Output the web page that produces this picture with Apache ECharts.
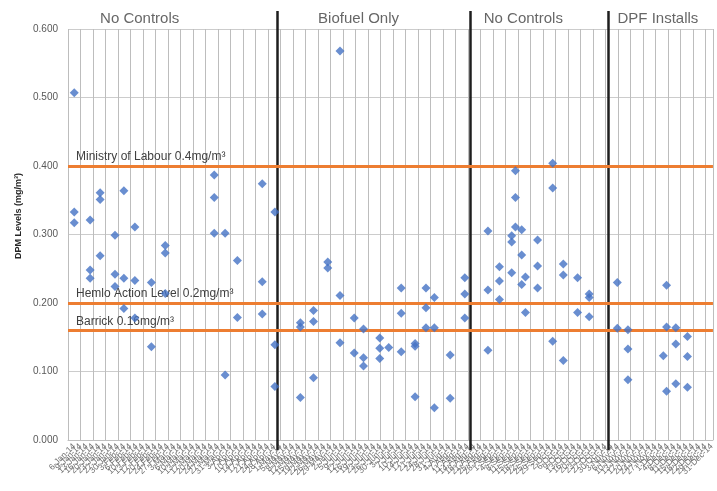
<!DOCTYPE html>
<html>
<head>
<meta charset="utf-8">
<script src="https://cdn.jsdelivr.net/npm/echarts@6/dist/echarts.min.js"></script>
<style>
html,body{margin:0;padding:0;background:#fff;}
#chart{width:717px;height:491px;}
</style>
</head>
<body>
<div id="chart"></div>
<script>
// ---- data (x = sampling position along date axis, in grid-column units) ----
var noControls1X = [0.50,0.50,0.50, 1.77,1.77,1.77, 2.57,2.57,2.57, 3.76,3.76,3.76, 4.47,4.47,4.47, 5.35,5.35,5.35, 6.67,6.67, 7.78,7.78,7.78, 11.70,11.70,11.70, 12.57,12.57, 13.55,13.55, 15.54,15.54,15.54, 16.55,16.55,16.55];
var noControls1Y = [0.507,0.333,0.317, 0.321,0.248,0.236, 0.361,0.351,0.269, 0.299,0.242,0.224, 0.364,0.236,0.192, 0.311,0.233,0.178, 0.230,0.136, 0.284,0.273,0.214, 0.387,0.354,0.302, 0.302,0.095, 0.262,0.179, 0.374,0.231,0.184, 0.333,0.139,0.078];

var biofuelX = [18.59,18.59,18.59, 19.64,19.64,19.64, 20.78,20.78, 21.76,21.76,21.76, 22.90,22.90, 23.64,23.64,23.64, 24.94,24.94,24.94, 25.66, 26.66,26.66,26.66, 27.77,27.77,27.77, 28.64,28.64,28.64, 29.31,29.31,29.31, 30.58,30.58, 31.75,31.75,31.75];
var biofuelY = [0.171,0.165,0.062, 0.189,0.173,0.091, 0.260,0.251, 0.568,0.211,0.142, 0.178,0.127, 0.162,0.120,0.108, 0.149,0.134,0.119, 0.135, 0.222,0.185,0.129, 0.141,0.137,0.063, 0.222,0.193,0.164, 0.208,0.164,0.047, 0.124,0.061, 0.237,0.213,0.178];

var noControls2X = [33.60,33.60,33.60, 34.52,34.52,34.52, 35.80,35.80,35.80, 35.50,35.50,35.50, 36.30,36.30,36.30, 36.60,36.60, 37.57,37.57,37.57, 38.78,38.78,38.78, 39.63,39.63,39.63, 40.77,40.77, 41.70,41.70,41.70];
var noControls2Y = [0.305,0.219,0.131, 0.253,0.232,0.205, 0.393,0.354,0.311, 0.298,0.289,0.244, 0.307,0.270,0.227, 0.238,0.186, 0.292,0.254,0.222, 0.404,0.368,0.144, 0.257,0.241,0.116, 0.237,0.186, 0.213,0.208,0.180];

var dpfX = [43.95,43.95, 44.80,44.80,44.80, 47.63, 47.89,47.89,47.89, 48.63,48.63,48.63, 49.56,49.56,49.56];
var dpfY = [0.230,0.163, 0.161,0.133,0.088, 0.123, 0.226,0.165,0.071, 0.164,0.140,0.082, 0.151,0.122,0.077];

var limitValues = [0.4, 0.2, 0.16];
var limitNames = ['Ministry of Labour 0.4mg/m\u00b3', 'Hemlo Action Level 0.2mg/m\u00b3', 'Barrick 0.16mg/m\u00b3'];

var phaseBreaks = [16.62, 31.95, 42.92];
var phaseNames = ['No Controls', 'Biofuel Only', 'No Controls', 'DPF Installs'];
var phaseCentres = [5.7, 23.1, 36.2, 46.9];

var yTicks = [0, 0.1, 0.2, 0.3, 0.4, 0.5, 0.6];

var dateLabels = [
 '2-Jan-14','6-Jan-14','9-Jan-14','13-Jan-14','16-Jan-14','20-Jan-14','23-Jan-14','27-Jan-14','30-Jan-14',
 '3-Feb-14','6-Feb-14','10-Feb-14','13-Feb-14','17-Feb-14','20-Feb-14','24-Feb-14','27-Feb-14',
 '3-Mar-14','6-Mar-14','10-Mar-14','13-Mar-14','17-Mar-14','20-Mar-14','24-Mar-14','27-Mar-14','31-Mar-14',
 '3-Apr-14','7-Apr-14','10-Apr-14','14-Apr-14','17-Apr-14','21-Apr-14','24-Apr-14','28-Apr-14',
 '1-May-14','5-May-14','8-May-14','12-May-14','15-May-14','19-May-14','22-May-14','26-May-14','29-May-14',
 '2-Jun-14','5-Jun-14','9-Jun-14','12-Jun-14','16-Jun-14','19-Jun-14','23-Jun-14','26-Jun-14','30-Jun-14',
 '3-Jul-14','7-Jul-14','10-Jul-14','14-Jul-14','17-Jul-14','21-Jul-14','24-Jul-14','28-Jul-14','31-Jul-14',
 '4-Aug-14','7-Aug-14','11-Aug-14','14-Aug-14','18-Aug-14','21-Aug-14','25-Aug-14','28-Aug-14',
 '1-Sep-14','4-Sep-14','8-Sep-14','11-Sep-14','15-Sep-14','18-Sep-14','22-Sep-14','25-Sep-14','29-Sep-14',
 '2-Oct-14','6-Oct-14','9-Oct-14','13-Oct-14','16-Oct-14','20-Oct-14','23-Oct-14','27-Oct-14','30-Oct-14',
 '3-Nov-14','6-Nov-14','10-Nov-14','13-Nov-14','17-Nov-14','20-Nov-14','24-Nov-14','27-Nov-14',
 '1-Dec-14','4-Dec-14','8-Dec-14','11-Dec-14','15-Dec-14','18-Dec-14','22-Dec-14','29-Dec-14','31-Dec-14'
];

// ---- build ----
function pairs(xs, ys){ var out=[]; for (var i=0;i<xs.length;i++) out.push([xs[i], ys[i]]); return out; }
var points = [].concat(pairs(noControls1X,noControls1Y), pairs(biofuelX,biofuelY), pairs(noControls2X,noControls2Y), pairs(dpfX,dpfY));

var X_MAX = 51.6;
var chart = echarts.init(document.getElementById('chart'), null, {renderer:'canvas'});

var font = '"Liberation Sans", Arial, sans-serif';

var option = {
  animation: false,
  backgroundColor: '#ffffff',
  grid: [
    {left: 68, right: 0, top: 29, bottom: 51, containLabel: false},
    {left: 68, right: 0, top: 11, bottom: 41, containLabel: false}
  ],
  xAxis: [
    {type:'value', gridIndex:0, min:0, max:X_MAX, interval:1,
     axisLine:{show:true, lineStyle:{color:'#bfbfbf', width:1}},
     axisTick:{show:false}, axisLabel:{show:false},
     splitLine:{show:true, lineStyle:{color:'#bdbdbd', width:1}}},
    {type:'value', gridIndex:0, min:0, max:X_MAX, interval:0.5, position:'bottom',
     axisLine:{show:false}, axisTick:{show:false}, splitLine:{show:false},
     axisLabel:{show:true, rotate:45, fontSize:8.5, color:'#6e6e6e', margin:5, fontFamily:font,
       showMaxLabel:false,
       formatter:function(v){ var i=Math.round(v*2); if (Math.abs(v*2-i)>1e-6) return ''; return dateLabels[i]||''; }}},
    {type:'value', gridIndex:1, min:0, max:X_MAX, show:false}
  ],
  yAxis: [
    {type:'value', gridIndex:0, min:yTicks[0], max:yTicks[yTicks.length-1], interval:0.1,
     axisLine:{show:false}, axisTick:{show:false},
     axisLabel:{color:'#595959', fontSize:10, margin:10, fontFamily:font,
       formatter:function(v){ return v.toFixed(3); }},
     splitLine:{show:true, lineStyle:{color:'#cccccc', width:1}}},
    {type:'value', gridIndex:1, min:0, max:1, show:false}
  ],
  graphic: [
    {type:'text', x:18.5, y:216, rotation:Math.PI/2,
     style:{text:'DPM Levels (mg/m\u00b3)', font:'bold 9px ' + font, fill:'#262626', align:'center', verticalAlign:'middle'}}
  ],
  series: [
    {type:'line', xAxisIndex:2, yAxisIndex:1, data:[], z:3, silent:true,
     markLine:{silent:true, symbol:['none','none'], label:{show:false},
       lineStyle:{color:'#1e1e1e', width:2.5, type:'solid'},
       data: phaseBreaks.map(function(b){ return {xAxis:b}; })}},
    {type:'scatter', xAxisIndex:2, yAxisIndex:1, symbolSize:0, z:3, silent:true,
     data: phaseCentres.map(function(c, i){ return {value:[c, 1], name:phaseNames[i]}; }),
     label:{show:true, position:'bottom', distance:0, formatter:function(p){ return p.name; },
       fontSize:15, color:'#404040', fontFamily:font}},
    {type:'line', xAxisIndex:0, yAxisIndex:0, data:[], z:2, silent:true,
     markLine:{silent:true, symbol:['none','none'],
       lineStyle:{color:'#ED7D31', width:3, type:'solid'},
       label:{show:true, position:'insideStartTop', distance:[8,3], fontSize:12, color:'#404040', fontFamily:font,
         formatter:function(p){ return p.name; }},
       data: limitValues.map(function(v, i){ return {yAxis:v, name:limitNames[i]}; })}},
    {type:'scatter', xAxisIndex:0, yAxisIndex:0, z:5,
     symbol:'diamond', symbolSize:9,
     itemStyle:{color:'#4472C4'},
     data: points}
  ]
};
chart.setOption(option);
</script>
</body>
</html>
